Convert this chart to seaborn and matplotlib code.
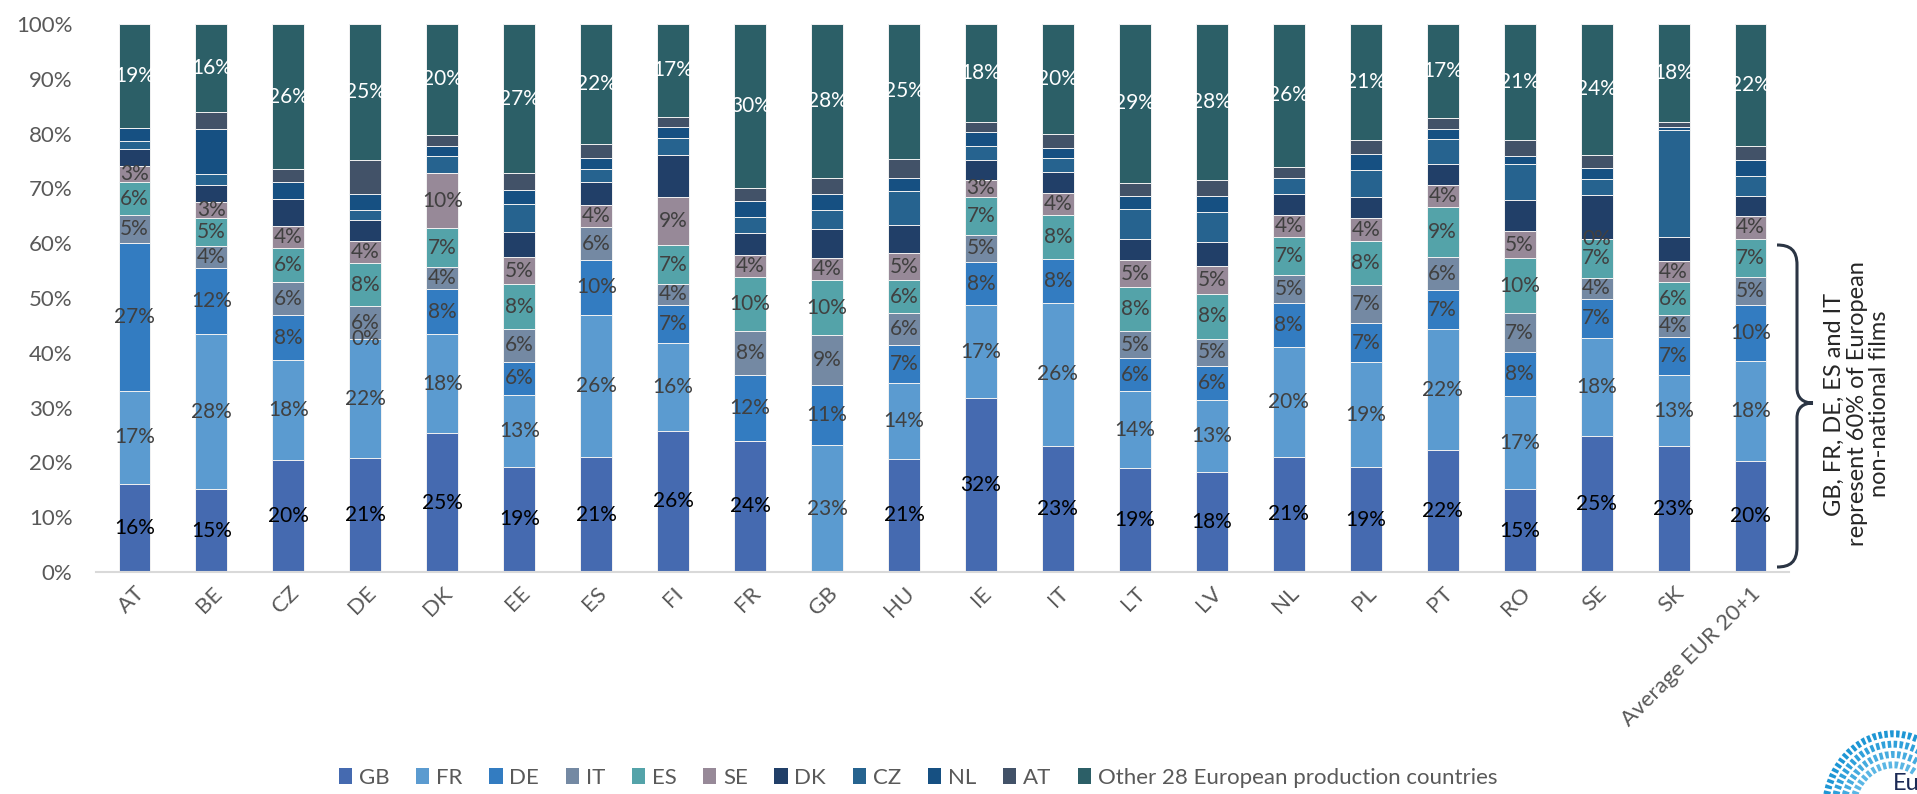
import numpy as np
import matplotlib
matplotlib.use("Agg")
import matplotlib.pyplot as plt
import seaborn as sns
from matplotlib.patches import Patch, Arc, PathPatch
from matplotlib.path import Path

nan = np.nan

categories = ["AT", "BE", "CZ", "DE", "DK", "EE", "ES", "FI", "FR", "GB", "HU",
              "IE", "IT", "LT", "LV", "NL", "PL", "PT", "RO", "SE", "SK",
              "Average EUR 20+1"]

series_names = ["GB", "FR", "DE", "IT", "ES", "SE", "DK", "CZ", "NL", "AT",
                "Other 28 European production countries"]

GB = [16, 15, 20, 21, 25, 19, 21, 26, 24, nan, 21, 32, 23, 19, 18, 21, 19, 22, 15, 25, 23, 20]
FR = [17, 28, 18, 22, 18, 13, 26, 16, nan, 23, 14, 17, 26, 14, 13, 20, 19, 22, 17, 18, 13, 18]
DE = [27, 12, 8, 0, 8, 6, 10, 7, 12, 11, 7, 8, 8, 6, 6, 8, 7, 7, 8, 7, 7, 10]
IT = [5, 4, 6, 6, 4, 6, 6, 4, 8, 9, 6, 5, nan, 5, 5, 5, 7, 6, 7, 4, 4, 5]
ES = [6, 5, 6, 8, 7, 8, nan, 7, 10, 10, 6, 7, 8, 8, 8, 7, 8, 9, 10, 7, 6, 7]
SE = [3, 3, 4, 4, 10, 5, 4, 9, 4, 4, 5, 3, 4, 5, 5, 4, 4, 4, 5, 0, 4, 4]
DK = [3.0, 2.9, 4.8, 3.9, nan, 4.4, 4.3, 7.7, 4.0, 5.4, 5.2, 3.8, 3.7, 3.9, 4.4, 3.8, 3.9, 3.9, 5.7, 8.2, 4.4, 3.7]
CZ = [1.5, 2.0, nan, 1.9, 3.0, 5.2, 2.4, 3.0, 2.9, 3.4, 6.4, 2.5, 2.7, 5.4, 5.4, 2.9, 4.8, 4.5, 6.5, 2.9, 19.5, 3.6]
NL = [2.3, 8.2, 3.0, 2.9, 1.8, 2.5, 2.0, 2.0, 2.9, 2.9, 2.4, 2.5, 1.8, 2.3, 2.8, nan, 2.9, 1.8, 1.4, 2.0, 0.5, 2.8]
AT = [nan, 3.0, 2.4, 6.4, 2.1, 3.0, 2.4, 2.0, 2.4, 2.9, 3.5, 1.9, 2.5, 2.5, 3.0, 2.0, 2.6, 2.0, 3.0, 2.4, 0.9, 2.5]
OTHER = [19, 16, 26, 25, 20, 27, 22, 17, 30, 28, 25, 18, 20, 29, 28, 26, 21, 17, 21, 24, 18, 22]

colors = ["#456AB0", "#5B9BD0", "#337CC1", "#7489A3", "#54A3A9", "#978998",
          "#213F68", "#26638F", "#165082", "#425268", "#2C5F67"]
show_labels = [True, True, True, True, True, True, False, False, False, False, True]
label_colors = ["#000000", "#404040", "#404040", "#404040", "#404040", "#404040",
                None, None, None, None, "#FFFFFF"]

sns.set_theme(style="white")
plt.rcParams['font.family'] = ['Lato', 'DejaVu Sans']

W, H = 1917, 794
fig = plt.figure(figsize=(W / 100, H / 100), dpi=100)
ax = fig.add_axes([96 / W, 1 - 572 / H, (1789 - 96) / W, (572 - 24) / H])

vals = np.array([GB, FR, DE, IT, ES, SE, DK, CZ, NL, AT, OTHER], dtype=float)
filled = np.nan_to_num(vals)
shares = filled / filled.sum(axis=0) * 100.0   # 100% stacked columns
cum = shares.cumsum(axis=0)

for k in reversed(range(len(series_names))):
    sns.barplot(x=categories, y=cum[k], color=colors[k], width=0.415,
                saturation=1, edgecolor="#F2F2F2", linewidth=0.7,
                errorbar=None, ax=ax)

for k in range(len(series_names)):
    if not show_labels[k]:
        continue
    for i in range(len(categories)):
        v = vals[k, i]
        if np.isnan(v):
            continue
        y = cum[k, i] - shares[k, i] / 2
        ax.text(i, y, f"{v:.0f}%", ha="center", va="center", fontsize=15,
                color=label_colors[k])

ax.set_ylim(0, 100)
ax.set_xlim(-0.5, len(categories) - 0.5)
ax.set_yticks(np.arange(0, 101, 10))
ax.set_yticklabels([f"{t}%" for t in range(0, 101, 10)])
ax.set_xlabel("")
ax.set_ylabel("")
sns.despine(ax=ax, left=True)
ax.spines["bottom"].set_color("#D9D9D9")
ax.spines["bottom"].set_linewidth(1.5)
ax.tick_params(axis="y", length=0, pad=17, labelsize=16, labelcolor="#595959")
ax.tick_params(axis="x", length=0, pad=8, labelsize=16, labelcolor="#595959")
for lab in ax.get_xticklabels():
    lab.set_rotation(45)
    lab.set_ha("right")
    lab.set_va("top")
    lab.set_rotation_mode("anchor")

handles = [Patch(facecolor=c, edgecolor="none") for c in colors]
fig.legend(handles, series_names, loc="center", bbox_to_anchor=(918 / W, 1 - 778 / H),
           ncol=11, frameon=False, fontsize=16, handlelength=0.6, handleheight=0.7,
           handletextpad=0.3, columnspacing=1.2, labelcolor="#595959")

# overlay for annotation
oax = fig.add_axes([0, 0, 1, 1], zorder=5)
oax.set_xlim(0, W)
oax.set_ylim(H, 0)
oax.axis("off")
oax.patch.set_alpha(0)

verts = [(1777, 245), (1790, 245), (1797, 250), (1797, 265),
         (1797, 388),
         (1797, 398), (1803, 403), (1813, 403),
         (1803, 403), (1797, 408), (1797, 418),
         (1797, 547),
         (1797, 562), (1790, 567), (1777, 567)]
codes = [Path.MOVETO, Path.CURVE4, Path.CURVE4, Path.CURVE4,
         Path.LINETO,
         Path.CURVE4, Path.CURVE4, Path.CURVE4,
         Path.CURVE4, Path.CURVE4, Path.CURVE4,
         Path.LINETO,
         Path.CURVE4, Path.CURVE4, Path.CURVE4]
oax.add_patch(PathPatch(Path(verts, codes), facecolor="none", edgecolor="#2B3544", lw=2.2))

oax.text(1857, 404, "GB, FR, DE, ES and IT\nrepresent 60% of European\nnon-national films",
         rotation=90, ha="center", va="center", multialignment="center",
         fontsize=17, color="#262626", linespacing=1.1)

# logo approximation
for r, c in zip([68, 59, 50, 41], ["#1E96D4", "#2FA0DA", "#45ABDF", "#5BB6E4"]):
    oax.add_patch(Arc((1893, 812), 2 * r, 2 * r * 1.15, theta1=180, theta2=300,
                      edgecolor=c, lw=5, linestyle=(0, (0.5, 0.35))))
oax.text(1893, 783, "Eu", fontsize=17, color="#1B2A55", ha="left", va="center")

fig.savefig("out.png", dpi=100)
